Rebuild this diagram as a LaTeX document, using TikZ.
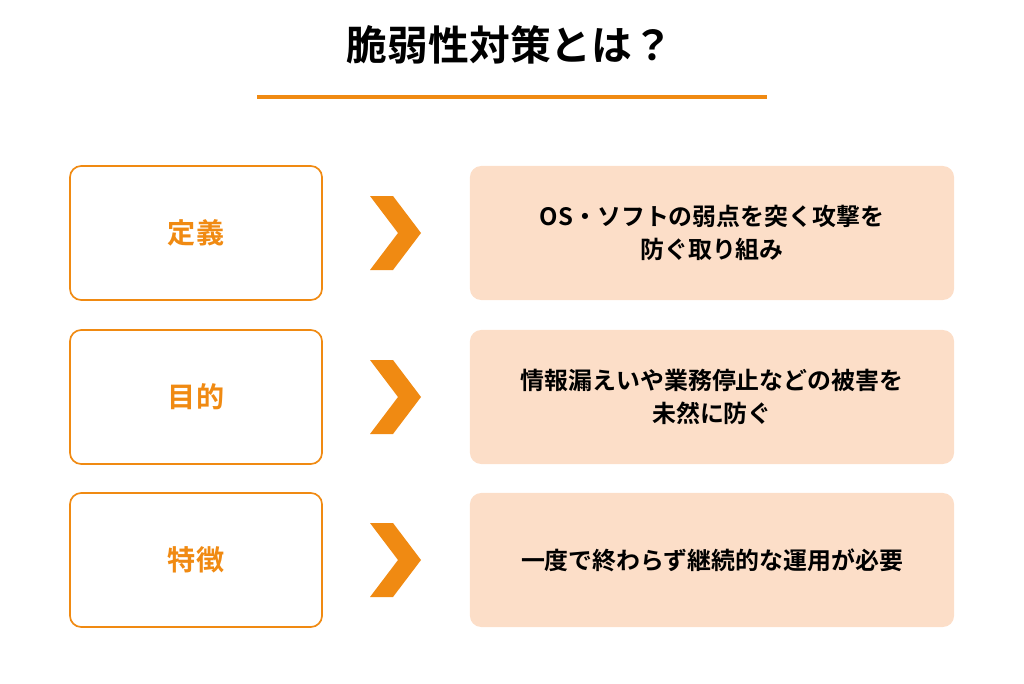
\documentclass[tikz,border=0pt]{standalone}
\usepackage{fontspec}
\setmainfont{Noto Sans CJK JP}[BoldFont={Noto Sans CJK JP Bold}]
\usetikzlibrary{positioning}
\definecolor{accent}{HTML}{F08A12}
\definecolor{peach}{HTML}{FCDEC8}
\tikzset{
x=0.025cm, y=-0.025cm,
label box/.style={draw=accent, line width=1.2pt, rounded corners=8pt, minimum width=6.3cm, minimum height=3.35cm, text=accent, font=\bfseries\fontsize{20}{24}\selectfont},
info box/.style={fill=peach, rounded corners=8pt, minimum width=12.1cm, minimum height=3.35cm, align=center, font=\bfseries\fontsize{17}{23}\selectfont},
chevron/.style={fill=accent},
}
\begin{document}
\begin{tikzpicture}
\useasboundingbox (0,0) rectangle (1024,683);
% title
\node[font=\bfseries\fontsize{29}{34}\selectfont] (title) at (510,45) {脆弱性対策とは？};
\draw[accent, line width=2.4pt] (257,97) -- (767,97);
% rows
\foreach \y/\lab/\txt [count=\i] in {233/定義/{OS・ソフトの弱点を突く攻撃を\\防ぐ取り組み},
                                      397/目的/{情報漏えいや業務停止などの被害を\\未然に防ぐ},
                                      560/特徴/{一度で終わらず継続的な運用が必要}}{
  \node[label box] (lab\i) at (196,\y) {\lab};
  \node[info box] (info\i) at (712,\y) {\txt};
  \fill[chevron] (370,\y-37) -- (393,\y-37) -- (421,\y) -- (393,\y+37) -- (370,\y+37) -- (398,\y) -- cycle;
}
\end{tikzpicture}
\end{document}
